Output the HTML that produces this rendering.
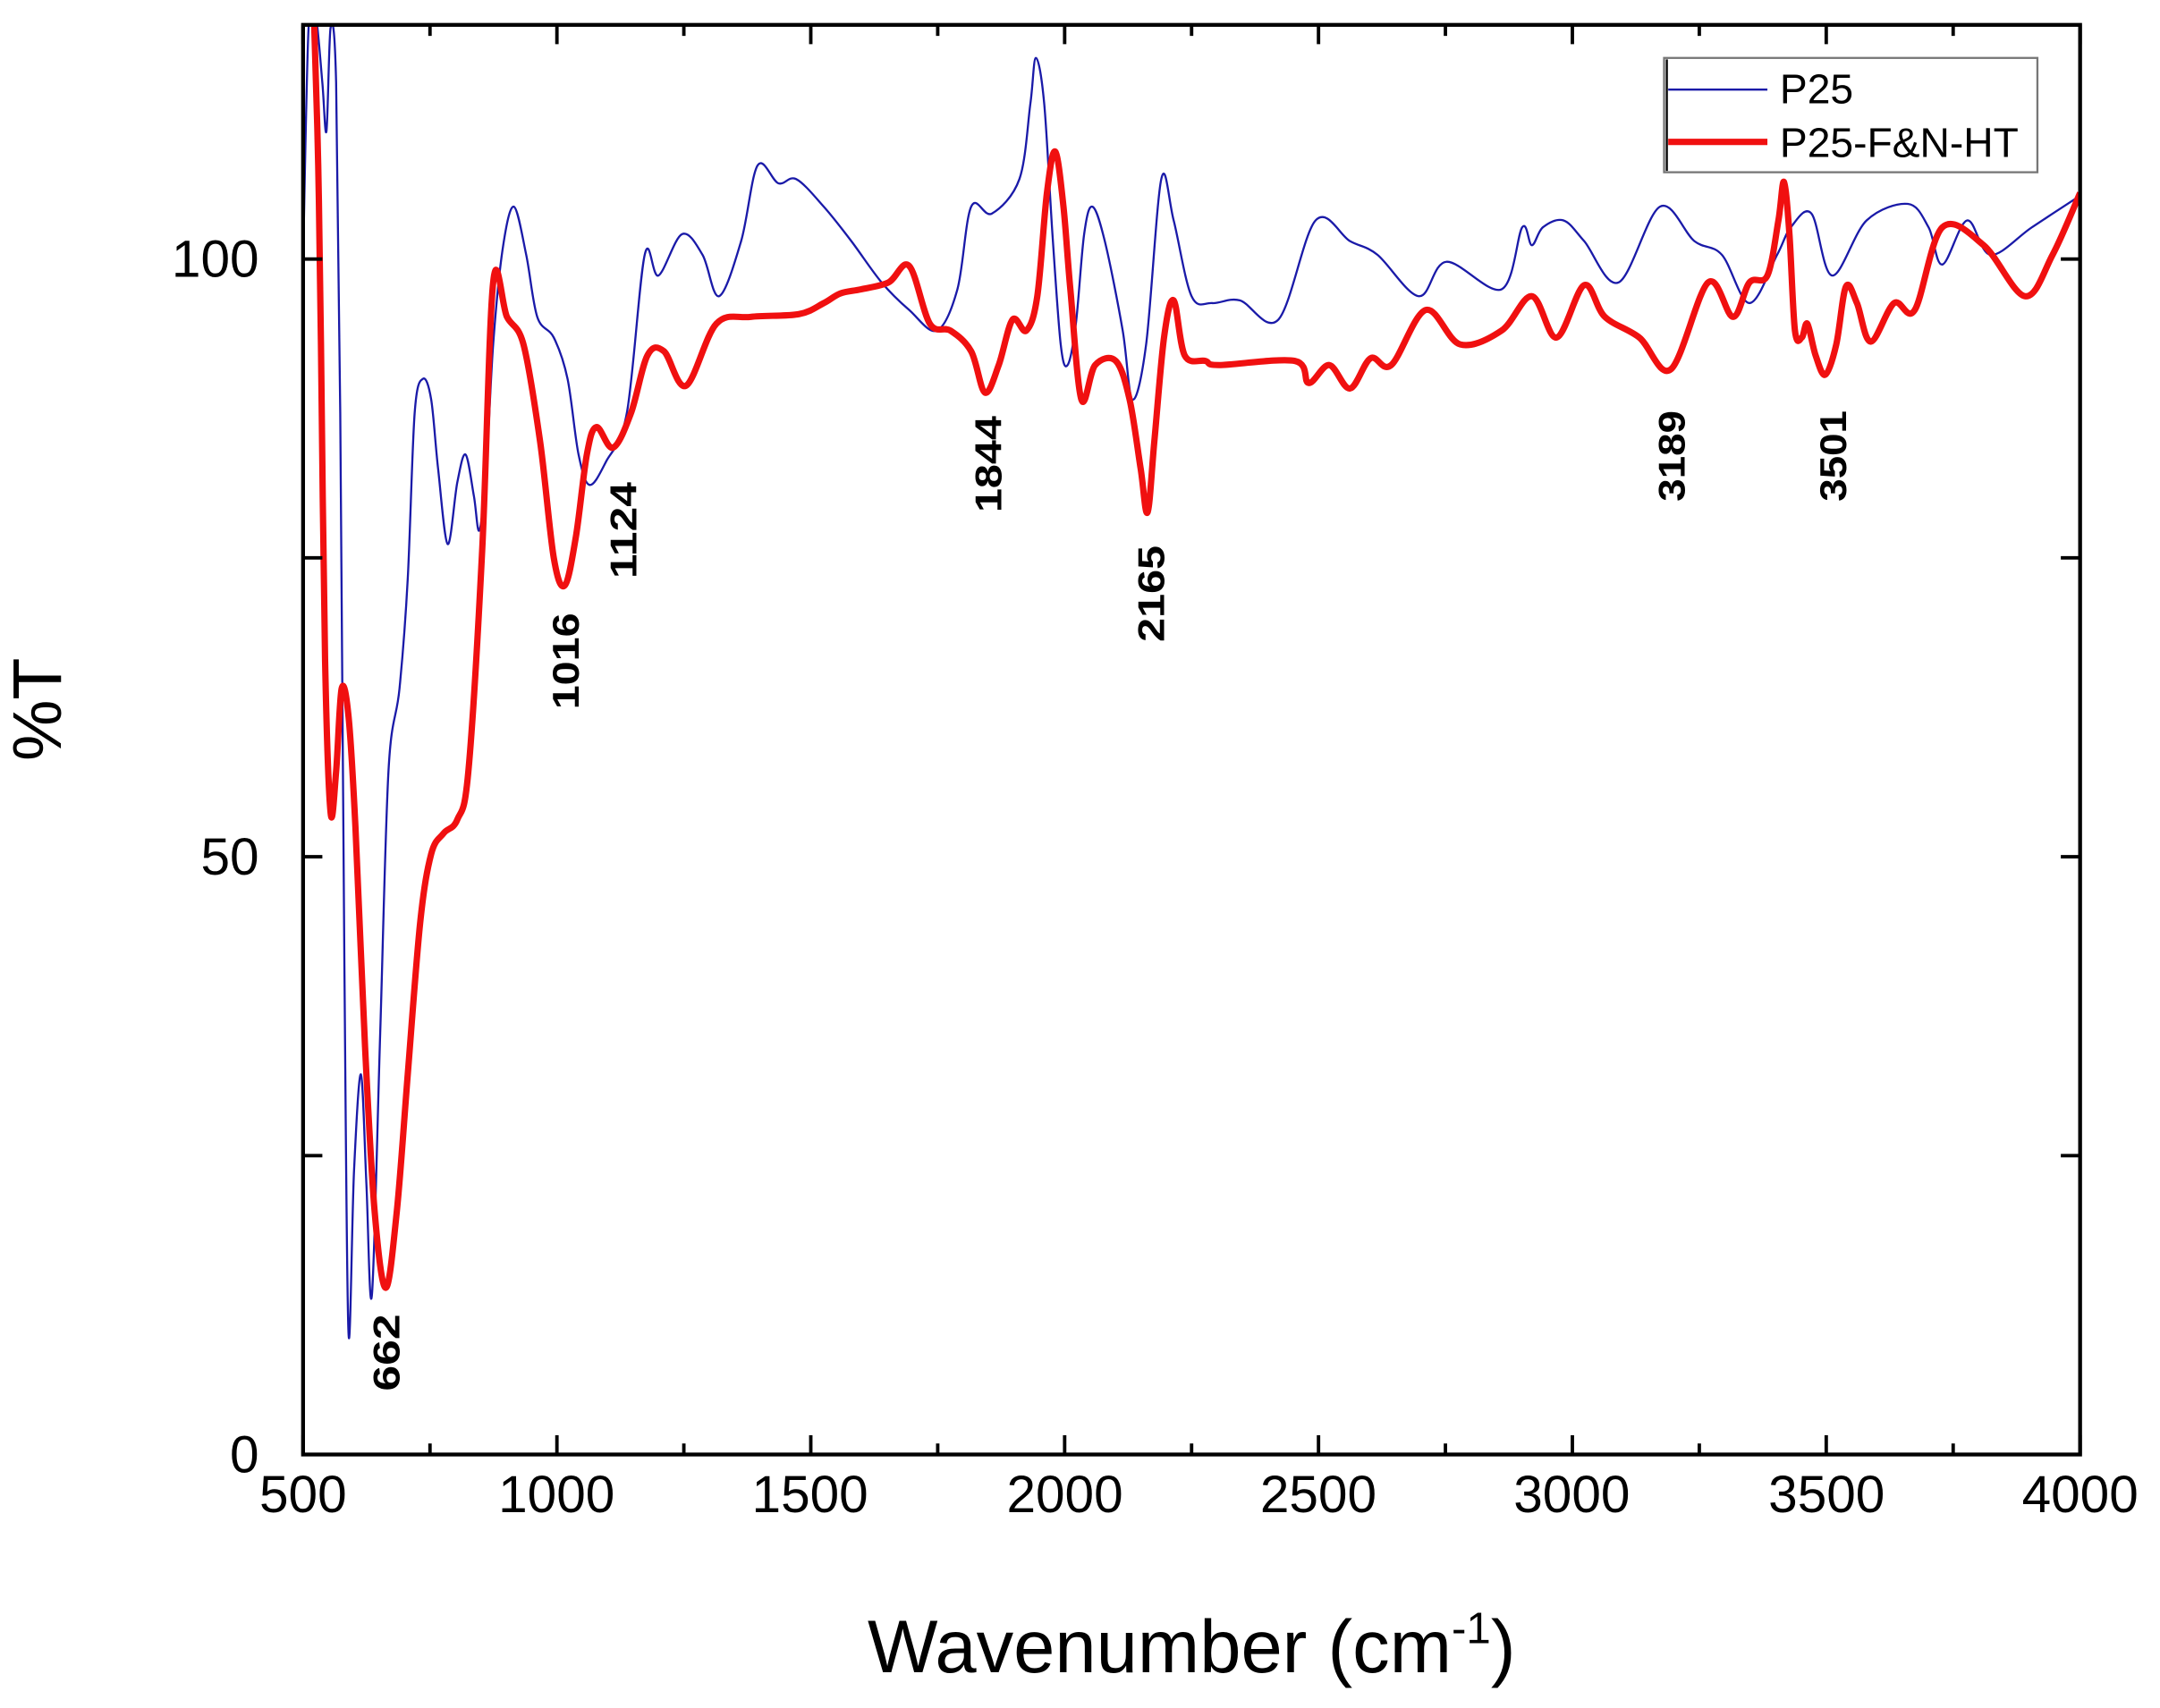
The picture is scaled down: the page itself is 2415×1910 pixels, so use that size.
<!DOCTYPE html>
<html><head><meta charset="utf-8"><style>
html,body{margin:0;padding:0;background:#fff}
svg{display:block}
text{font-family:"Liberation Sans",Arial,sans-serif;fill:#000}
</style></head><body>
<svg id="s" width="2415" height="1910" viewBox="0 0 1568 1240" xmlns="http://www.w3.org/2000/svg">
<defs><clipPath id="c"><rect x="220" y="18" width="1290" height="1038"/></clipPath></defs>
<g clip-path="url(#c)">
<path id="blue" fill="none" stroke="#1a1aa8" stroke-width="1.5" stroke-linejoin="round"/>
<path id="red" fill="none" stroke="#f01010" stroke-width="4.6" stroke-linejoin="round"/>
</g>
<g id="ticks" stroke="#000" stroke-width="2.5"></g>
<rect x="220" y="18" width="1290" height="1038" fill="none" stroke="#000" stroke-width="2.8"/>
<g font-size="38" text-anchor="middle">
<text x="220" y="1098">500</text><text x="404" y="1098">1000</text><text x="588" y="1098">1500</text><text x="773" y="1098">2000</text><text x="957" y="1098">2500</text><text x="1141" y="1098">3000</text><text x="1326" y="1098">3500</text><text x="1510" y="1098">4000</text>
</g>
<g font-size="38" text-anchor="end">
<text x="188" y="201">100</text><text x="188" y="635">50</text><text x="188" y="1069">0</text>
</g>
<text x="865" y="1214" font-size="54" text-anchor="middle">Wavenumber (cm<tspan font-size="32" dy="-21">-1</tspan><tspan dy="21">)</tspan></text>
<text transform="translate(44,515) rotate(-90)" font-size="50" text-anchor="middle">%T</text>
<g font-size="27" font-weight="bold" text-anchor="middle">
<text transform="translate(290,982) rotate(-90)" textLength="56" lengthAdjust="spacingAndGlyphs">662</text>
<text transform="translate(420,480) rotate(-90)" textLength="70" lengthAdjust="spacingAndGlyphs">1016</text>
<text transform="translate(462,385) rotate(-90)" textLength="70" lengthAdjust="spacingAndGlyphs">1124</text>
<text transform="translate(727,337) rotate(-90)" textLength="70" lengthAdjust="spacingAndGlyphs">1844</text>
<text transform="translate(845,431) rotate(-90)" textLength="70" lengthAdjust="spacingAndGlyphs">2165</text>
<text transform="translate(1223,331) rotate(-90)" textLength="66" lengthAdjust="spacingAndGlyphs">3189</text>
<text transform="translate(1340,331) rotate(-90)" textLength="66" lengthAdjust="spacingAndGlyphs">3501</text>
</g>
<rect x="1208" y="42" width="271" height="83" fill="#fff" stroke="#777" stroke-width="1.5"/>
<line x1="1210" y1="43" x2="1210" y2="124" stroke="#000" stroke-width="1.5"/>
<line x1="1211" y1="65" x2="1283" y2="65" stroke="#1a1aa8" stroke-width="1.5"/>
<line x1="1211" y1="103" x2="1283" y2="103" stroke="#f01010" stroke-width="4.6"/>
<text x="1292" y="75" font-size="30">P25</text>
<text x="1292" y="114" font-size="30">P25-F&amp;N-HT</text>
</svg>
<script>
var B=[[220,190],[224,20],[229,10],[234,60],[237,95],[240,20],[244,60],[247,300],[250,700],[253,968],[257,850],[262,780],[266,860],[270,940],[276,750],[282,560],[290,500],[296,420],[301,300],[307,275],[313,290],[318,340],[325,395],[332,350],[338,330],[344,360],[348,385],[353,340],[358,250],[365,180],[373,150],[382,185],[390,230],[402,245],[412,275],[420,330],[428,352],[440,335],[455,300],[468,185],[478,200],[495,170],[510,185],[522,215],[538,175],[550,120],[565,133],[578,130],[598,150],[618,175],[640,205],[660,225],[680,240],[695,210],[705,150],[720,155],[740,130],[748,75],[752,42],[758,75],[764,170],[770,250],[775,265],[781,235],[787,170],[793,150],[802,175],[815,240],[822,290],[832,250],[843,130],[852,160],[865,215],[880,220],[900,218],[928,232],[955,160],[980,175],[1000,185],[1030,215],[1050,190],[1090,210],[1105,165],[1112,178],[1120,165],[1135,160],[1150,175],[1175,205],[1205,150],[1230,175],[1250,185],[1270,220],[1290,185],[1300,165],[1315,155],[1330,200],[1355,160],[1385,148],[1400,165],[1410,192],[1428,160],[1445,185],[1475,165],[1510,142]];
var R=[[228,15],[231,120],[233,250],[236,480],[240,590],[244,560],[248,500],[253,520],[258,600],[265,760],[272,880],[280,935],[288,880],[296,780],[305,670],[313,620],[322,605],[332,595],[340,560],[350,400],[358,205],[368,230],[380,250],[392,320],[402,405],[410,425],[418,390],[426,330],[433,310],[445,325],[458,300],[470,258],[482,255],[498,280],[520,235],[545,230],[580,228],[598,220],[610,213],[625,210],[645,205],[660,193],[675,235],[690,240],[705,255],[715,285],[725,265],[735,232],[745,240],[753,215],[760,140],[766,110],[772,150],[777,210],[785,290],[795,265],[810,262],[820,290],[828,340],[833,372],[838,320],[845,245],[852,218],[860,258],[875,262],[885,265],[940,262],[950,278],[965,265],[980,282],[995,260],[1010,265],[1035,225],[1060,250],[1090,240],[1112,215],[1130,245],[1150,207],[1165,230],[1190,245],[1213,268],[1240,205],[1258,230],[1270,205],[1283,200],[1291,160],[1295,132],[1299,170],[1303,240],[1308,245],[1312,235],[1318,258],[1325,272],[1333,250],[1340,208],[1348,220],[1358,248],[1375,220],[1390,225],[1410,165],[1440,178],[1470,215],[1490,185],[1510,140]];
function path(p){var d="M"+p[0][0]+","+p[0][1];for(var i=0;i<p.length-1;i++){var a=p[i-1]||p[i],b=p[i],c=p[i+1],e=p[i+2]||c;var c1x=b[0]+(c[0]-a[0])/6,c1y=b[1]+(c[1]-a[1])/6,c2x=c[0]-(e[0]-b[0])/6,c2y=c[1]-(e[1]-b[1])/6;d+=" C"+c1x.toFixed(1)+","+c1y.toFixed(1)+" "+c2x.toFixed(1)+","+c2y.toFixed(1)+" "+c[0]+","+c[1];}return d;}
document.getElementById("blue").setAttribute("d",path(B));
document.getElementById("red").setAttribute("d",path(R));
var g=document.getElementById("ticks"),s="";
for(var i=0;i<=14;i++){var x=220+i*1290/14,L=(i%2==0)?14:8;s+='<line x1="'+x+'" y1="1056" x2="'+x+'" y2="'+(1056-L)+'"/><line x1="'+x+'" y1="18" x2="'+x+'" y2="'+(18+L)+'"/>';}
for(var j=0;j<=4;j++){var y=1056-j*217;s+='<line x1="220" y1="'+y+'" x2="234" y2="'+y+'"/><line x1="1510" y1="'+y+'" x2="1496" y2="'+y+'"/>';}
g.innerHTML=s;
</script>
</body></html>
